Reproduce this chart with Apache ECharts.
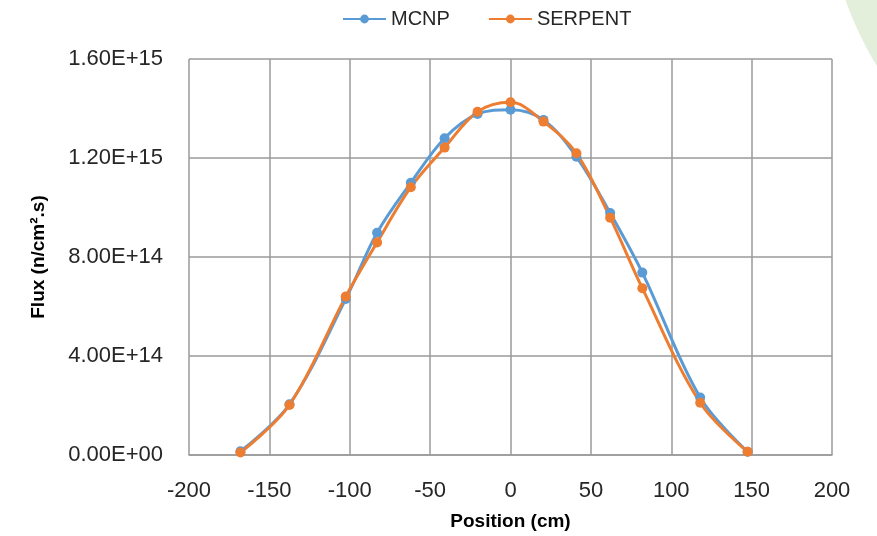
<!DOCTYPE html>
<html>
<head>
<meta charset="utf-8">
<script src="https://cdn.jsdelivr.net/npm/echarts@6/dist/echarts.min.js"></script>
<style>
html,body{margin:0;padding:0;background:#fff;}
#c{width:877px;height:536px;}
</style>
</head>
<body>
<div id="c"></div>
<script>
const positions = [-168, -137.5, -102.5, -83, -62, -41, -20.5, 0, 20.5, 41, 62, 82, 118, 147.5];
const mcnp = [0.015e15, 0.205e15, 0.63e15, 0.898e15, 1.10e15, 1.28e15, 1.378e15, 1.395e15, 1.354e15, 1.205e15, 0.978e15, 0.737e15, 0.232e15, 0.013e15];
const serpent = [0.010e15, 0.202e15, 0.64e15, 0.859e15, 1.082e15, 1.242e15, 1.387e15, 1.425e15, 1.347e15, 1.219e15, 0.959e15, 0.674e15, 0.211e15, 0.013e15];
const seriesNames = ['MCNP', 'SERPENT'];
const xTitle = 'Position (cm)';
const yTitle = 'Flux (n/cm\u00B2.s)';

function sci(v) {
  if (v === 0) return '0.00E+00';
  let s = v.toExponential(2).toUpperCase();
  const m = s.match(/^(.*E)([+-])(\d+)$/);
  if (m) s = m[1] + m[2] + (m[3].length < 2 ? '0' + m[3] : m[3]);
  return s;
}

const chart = echarts.init(document.getElementById('c'), null, {renderer: 'canvas'});
const font = '"Liberation Sans", Arial, sans-serif';
chart.setOption({
  animation: false,
  backgroundColor: '#ffffff',
  graphic: [{
    type: 'circle',
    z: -10,
    shape: {cx: 1151, cy: -105, r: 323},
    style: {fill: '#e3efdb'}
  }],
  legend: {
    left: 337, top: 4,
    itemWidth: 43, itemHeight: 11, itemGap: 38,
    textStyle: {fontFamily: font, fontSize: 20, color: '#262626'},
    data: seriesNames
  },
  grid: {left: 189, right: 45, top: 59, bottom: 81},
  xAxis: {
    type: 'value', min: -200, max: 200, interval: 50,
    name: xTitle, nameLocation: 'middle', nameGap: 57,
    nameTextStyle: {fontFamily: font, fontSize: 19, fontWeight: 'bold', color: '#000'},
    axisLine: {show: true, lineStyle: {color: '#9a9a9a', width: 1.5}},
    axisTick: {show: false},
    axisLabel: {fontFamily: font, fontSize: 22, color: '#262626', margin: 25},
    splitLine: {show: true, lineStyle: {color: '#9a9a9a', width: 1.5}}
  },
  yAxis: {
    type: 'value', min: 0, max: 1.6e15, interval: 4e14,
    name: yTitle, nameLocation: 'middle', nameGap: 141, nameRotate: 90,
    nameTextStyle: {fontFamily: font, fontSize: 19, fontWeight: 'bold', color: '#000'},
    axisLine: {show: false},
    axisTick: {show: false},
    axisLabel: {fontFamily: font, fontSize: 22, color: '#262626', margin: 26, formatter: sci},
    splitLine: {show: true, lineStyle: {color: '#9a9a9a', width: 1.5}}
  },
  series: [
    {
      name: seriesNames[0], type: 'line', smooth: 0.35,
      data: positions.map((p, i) => [p, mcnp[i]]),
      symbol: 'circle', symbolSize: 10,
      itemStyle: {color: '#5B9BD5'},
      lineStyle: {color: '#5B9BD5', width: 3}
    },
    {
      name: seriesNames[1], type: 'line', smooth: 0.35,
      data: positions.map((p, i) => [p, serpent[i]]),
      symbol: 'circle', symbolSize: 10,
      itemStyle: {color: '#ED7D31'},
      lineStyle: {color: '#ED7D31', width: 3}
    }
  ]
});
</script>
</body>
</html>
